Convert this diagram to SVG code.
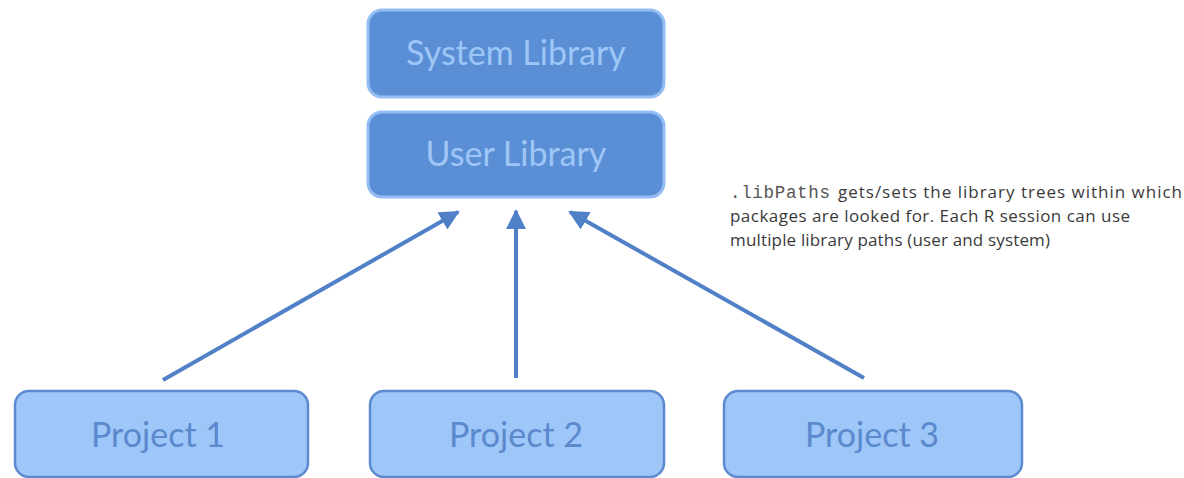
<svg xmlns="http://www.w3.org/2000/svg" width="1184" height="478" viewBox="0 0 1184 478">
  <style>
    .lib rect { fill: #5a8fd5; stroke: #93bdf3; stroke-width: 3; }
    .lib text { fill: #9ec6f7; font-family: Lato, "Noto Sans", sans-serif; font-size: 34px; text-anchor: middle; }
    .proj rect { fill: #9fc6f8; stroke: #5b8ad0; stroke-width: 2.5; }
    .proj text { fill: #5a89cd; font-family: Lato, "Noto Sans", sans-serif; font-size: 34px; text-anchor: middle; }
    .note { fill: #3a3a3a; font-family: "Open Sans", "Liberation Sans", sans-serif; font-size: 17px; }
    .mono { font-family: "Liberation Mono", monospace; font-size: 17.5px; fill: #555555; }
    .conn line { stroke: #5080c8; stroke-width: 4; }
  </style>
  <defs>
    <marker id="head" viewBox="0 0 10 10" refX="9" refY="5" markerWidth="5" markerHeight="5" orient="auto" markerUnits="strokeWidth">
      <path d="M0,0 L10,5 L0,10 Z" fill="#5080c8"/>
    </marker>
  </defs>
  <rect width="1184" height="478" fill="#ffffff"/>

  <g id="system-library" class="lib">
    <rect x="368" y="10" width="296" height="87" rx="14"/>
    <text x="516" y="65">System Library</text>
  </g>
  <g id="user-library" class="lib">
    <rect x="368" y="112" width="296" height="85" rx="14"/>
    <text x="516" y="166">User Library</text>
  </g>

  <g id="project-1" class="proj">
    <rect x="15" y="391" width="293" height="86" rx="14"/>
    <text x="158" y="447">Project 1</text>
  </g>
  <g id="project-2" class="proj">
    <rect x="370" y="391" width="294" height="86" rx="14"/>
    <text x="516" y="447">Project 2</text>
  </g>
  <g id="project-3" class="proj">
    <rect x="724" y="391" width="298" height="86" rx="14"/>
    <text x="872" y="447">Project 3</text>
  </g>

  <g id="connectors" class="conn">
    <line x1="163" y1="380" x2="458" y2="212" marker-end="url(#head)"/>
    <line x1="516" y1="378" x2="516" y2="211" marker-end="url(#head)"/>
    <line x1="864" y1="378" x2="570" y2="212" marker-end="url(#head)"/>
  </g>

  <g id="note">
    <text class="mono" x="730" y="198" textLength="100">.libPaths</text>
    <text class="note" x="838" y="198" textLength="344">gets/sets the library trees within which</text>
    <text class="note" x="730" y="222" textLength="400">packages are looked for. Each R session can use</text>
    <text class="note" x="730" y="246" textLength="320">multiple library paths (user and system)</text>
  </g>
</svg>
